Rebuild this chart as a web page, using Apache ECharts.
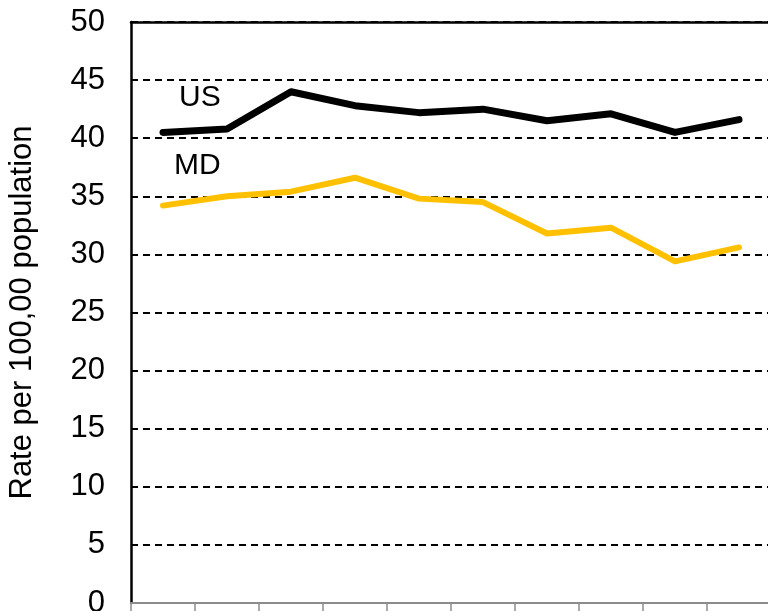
<!DOCTYPE html>
<html>
<head>
<meta charset="utf-8">
<style>
  html, body { margin: 0; padding: 0; background: #fff; }
  #chart { width: 768px; height: 611px; }
</style>
<script src="https://cdn.jsdelivr.net/npm/echarts@6/dist/echarts.min.js"></script>
</head>
<body>
<div id="chart"></div>
<script>
// Rate per 100,000 population, US vs MD, ten reporting years
const years = ['2009', '2010', '2011', '2012', '2013', '2014', '2015', '2016', '2017', '2018'];
const usRate = [40.5, 40.8, 44.0, 42.8, 42.2, 42.5, 41.5, 42.1, 40.5, 41.6];
const mdRate = [34.2, 35.0, 35.4, 36.6, 34.8, 34.5, 31.8, 32.3, 29.4, 30.6];
const yTicks = { min: 0, max: 50, interval: 5 };

const chart = echarts.init(document.getElementById('chart'), null, { renderer: 'canvas' });

const FONT = '"Liberation Sans", Arial, sans-serif';

chart.setOption({
  animation: false,
  backgroundColor: '#ffffff',
  grid: { left: 131, top: 22, width: 640, bottom: 8, containLabel: false, outerBoundsMode: 'none' },
  xAxis: [
    {
      type: 'category',
      data: years,
      boundaryGap: true,
      axisLine: { show: true, lineStyle: { color: '#8c8c8c', width: 2 } },
      axisTick: { show: true, length: 10, inside: false, lineStyle: { color: '#8c8c8c', width: 1.5 } },
      axisLabel: { show: false },
      splitLine: { show: false }
    },
    {
      type: 'category',
      data: years,
      position: 'top',
      axisLine: { show: true, lineStyle: { color: '#000', width: 2.5 } },
      axisTick: { show: false },
      axisLabel: { show: false },
      splitLine: { show: false }
    }
  ],
  yAxis: {
    type: 'value',
    min: yTicks.min,
    max: yTicks.max,
    interval: yTicks.interval,
    name: 'Rate per 100,00 population',
    nameLocation: 'middle',
    nameGap: 93,
    nameRotate: 90,
    nameMoveOverlap: false,
    nameTextStyle: { fontFamily: FONT, fontSize: 31, color: '#000' },
    axisLine: { show: true, lineStyle: { color: '#000', width: 2.5 } },
    axisTick: { show: false },
    axisLabel: { fontFamily: FONT, fontSize: 31, color: '#000', margin: 26 },
    splitLine: { show: true, lineStyle: { color: '#000', width: 2, type: [7, 5] } }
  },
  series: [
    {
      name: 'US',
      type: 'line',
      data: usRate,
      symbol: 'none',
      lineStyle: { color: '#000000', width: 7, cap: 'round', join: 'round' },
      z: 3
    },
    {
      name: 'MD',
      type: 'line',
      data: mdRate,
      symbol: 'none',
      lineStyle: { color: '#FFC000', width: 6, cap: 'round', join: 'round' },
      z: 2
    }
  ],
  graphic: [
    { type: 'text', x: 179, y: 98, style: { text: 'US', fontFamily: FONT, fontSize: 30, fill: '#000', verticalAlign: 'middle', align: 'left' } },
    { type: 'text', x: 174, y: 166, style: { text: 'MD', fontFamily: FONT, fontSize: 30, fill: '#000', verticalAlign: 'middle', align: 'left' } }
  ]
});
</script>
</body>
</html>
